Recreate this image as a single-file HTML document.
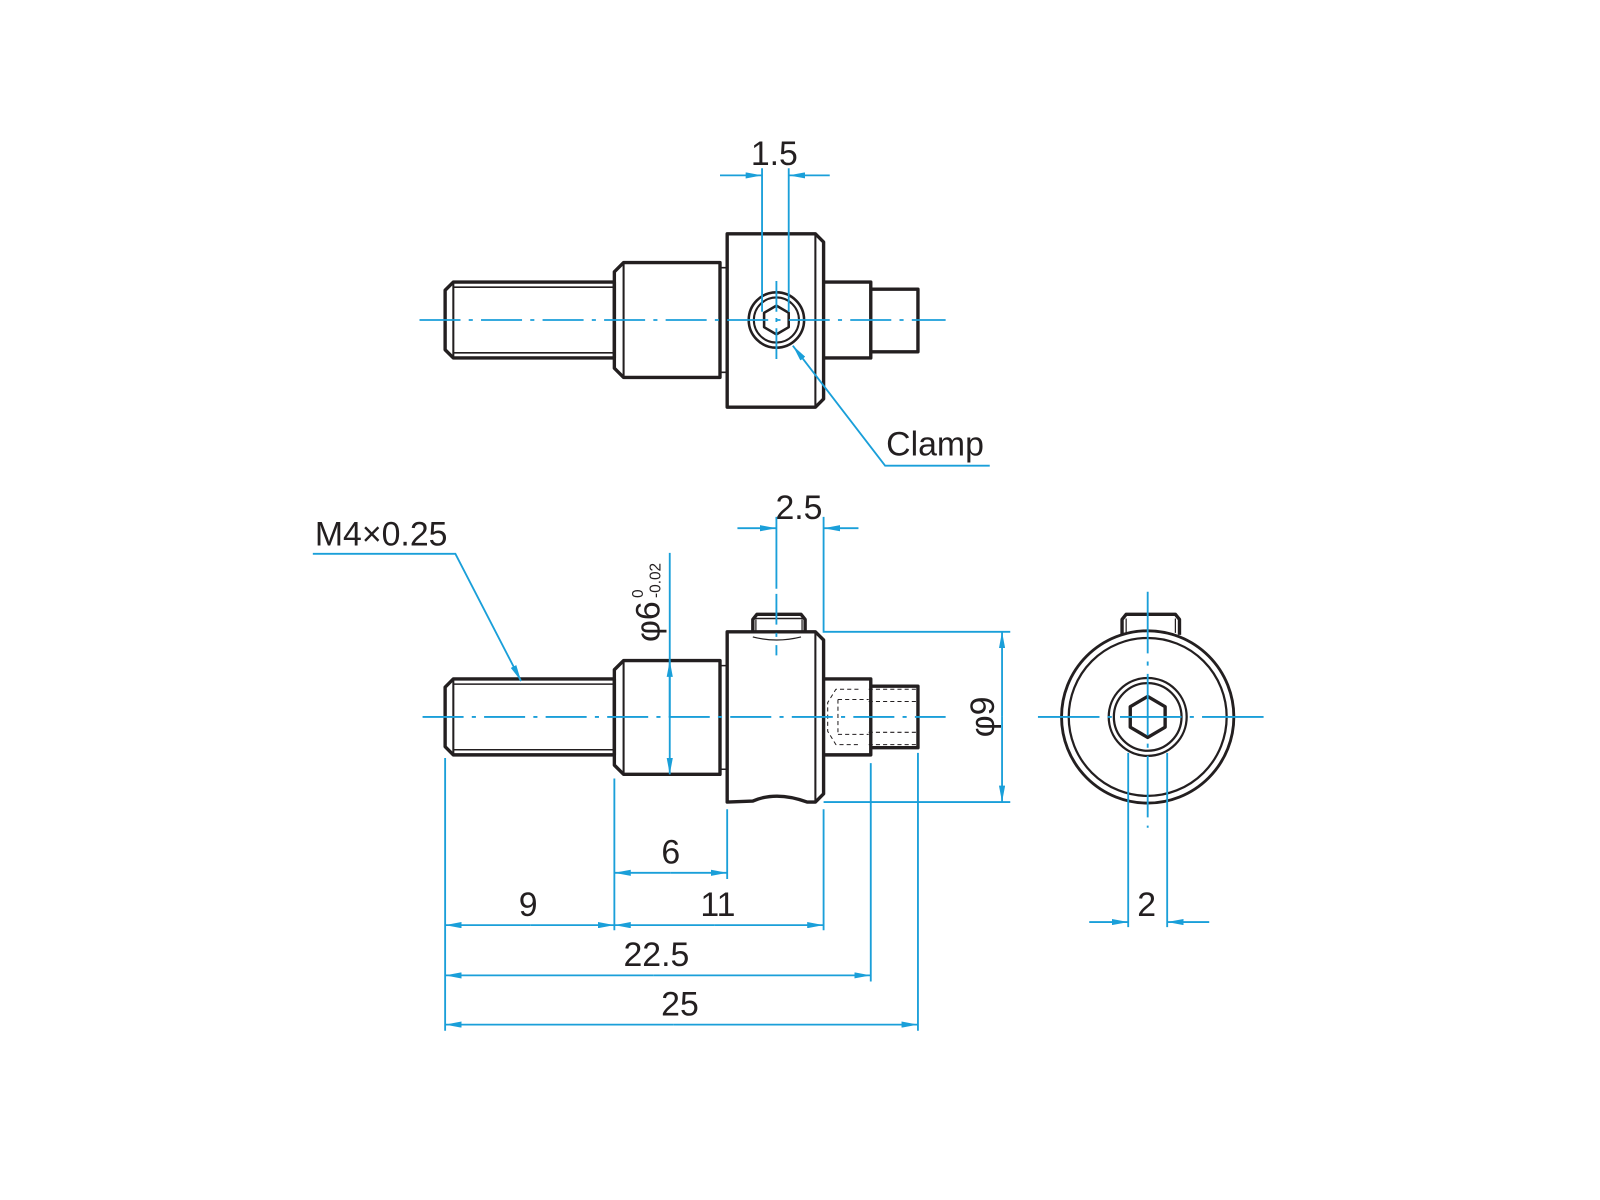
<!DOCTYPE html>
<html><head><meta charset="utf-8"><style>
html,body{margin:0;padding:0;background:#fff}
svg{display:block}
text{font-family:"Liberation Sans",sans-serif;fill:#231f20}
</style></head><body>
<svg width="1600" height="1200" viewBox="0 0 1560 1170" xmlns="http://www.w3.org/2000/svg">
<defs>
<marker id="a" viewBox="0 0 16 6" refX="16" refY="3" markerWidth="16" markerHeight="6" markerUnits="userSpaceOnUse" orient="auto"><path d="M0,0 L16,3 L0,6 z" fill="#1a9fd9"/></marker>
</defs>
<g transform="translate(-3,-1)">
<g fill="none" stroke="#231f20" stroke-width="3.3" stroke-linejoin="round">
<path d="M445,276 L602,276 L602,350 L445,350 L437,342 L437,284 Z"/>
<path d="M445,276 V350" stroke-width="2"/>
<path d="M445,281 H602 M445,345 H602" stroke-width="1.5"/>
<path d="M611,257 L705,257 L705,369 L611,369 L602,360 L602,266 Z"/>
<path d="M611,257 V369" stroke-width="2"/>
<path d="M705,262 H712 M705,364 H712 M712,262 V364" stroke-width="1.5"/>
<path d="M712,229 L798,229 L806,237 L806,390 L798,398 L712,398 Z"/>
<path d="M798,229 V398" stroke-width="2"/>
<path d="M806,276 H852 V350 H806"/>
<path d="M852,283 H898 V344 H852"/>
<circle cx="760" cy="313" r="27" stroke-width="2.5"/>
<circle cx="760" cy="313" r="22" stroke-width="2"/>
<path d="M760,299 L772,306 L772,320 L760,327 L748,320 L748,306 Z" stroke-width="2.5"/>
<path d="M445,663 L602,663 L602,737 L445,737 L437,729 L437,671 Z"/>
<path d="M445,663 V737" stroke-width="2"/>
<path d="M445,668 H602 M445,732 H602" stroke-width="1.5"/>
<path d="M611,645 L705,645 L705,756 L611,756 L602,747 L602,654 Z"/>
<path d="M611,645 V756" stroke-width="2"/>
<path d="M705,650 H712 M705,751 H712" stroke-width="1.5"/>
<path d="M712,617 L798,617 L806,625 L806,775 L798,783 L790,783 Q760,772 737,782 L712,783 Z"/>
<path d="M798,617 V783" stroke-width="2"/>
<path d="M737,617 L737,605 L741,600 L784,600 L788,605 L788,617"/>
<path d="M737,604 H788" stroke-width="1.5"/>
<path d="M740,605 V617 M785,605 V617" stroke-width="1.2"/>
<path d="M737,622 Q760,628 784,622" stroke-width="1.2"/>
<path d="M806,663 H852 V737 H806"/>
<path d="M852,670 H898 V730 H852"/>
<g stroke-width="1" stroke-dasharray="4,3">
<path d="M850,673 H896 M850,685 H896 M850,715 H896 M850,727 H896"/>
<path d="M840,673 H818 L810,686 V714 L818,727 H840"/>
<path d="M820,683 H850 M820,717 H850 M820,683 V717"/>
</g>
<circle cx="1122" cy="700" r="84" stroke-width="2.8"/>
<circle cx="1122" cy="700" r="77" stroke-width="2.2"/>
<circle cx="1122" cy="700" r="38" stroke-width="2.2"/>
<circle cx="1122" cy="700" r="33" stroke-width="2.2"/>
<path d="M1122,680 L1139,690 L1139,710 L1122,720 L1105,710 L1105,690 Z" stroke-width="3.3"/>
<path d="M1097,620 V605 L1101,600 L1149,600 L1153,605 V620"/>
<path d="M1101,604 V618 M1149,604 V618" stroke-width="1.2"/>
</g>
<g fill="none" stroke="#1a9fd9" stroke-width="1.8">
<path d="M412,313 H925" stroke-dasharray="40,8,4,8"/>
<path d="M760,275 V352" stroke-dasharray="30,6,4,6"/>
<path d="M415,700 H925" stroke-dasharray="40,8,4,8"/>
<path d="M760,580 V640" stroke-dasharray="30,8,4,8"/>
<path d="M1015,700 H1238" stroke-dasharray="60,8,4,8"/>
<path d="M1122,578 V808" stroke-dasharray="60,8,4,8"/>
<path d="M746,165 V305 M772,165 V305"/>
<path d="M705,172 H746" marker-end="url(#a)"/>
<path d="M812,172 H772" marker-end="url(#a)"/>
<path d="M968,455 H866 L776,338" marker-end="url(#a)"/>
<path d="M760,505 V575"/>
<path d="M806,505 V617 H988 M806,783 H988"/>
<path d="M722,516 H760" marker-end="url(#a)"/>
<path d="M840,516 H806" marker-end="url(#a)"/>
<path d="M656,540 V700"/>
<path d="M656,700 V645" marker-end="url(#a)"/>
<path d="M656,700 V756" marker-end="url(#a)"/>
<path d="M980,700 V617" marker-end="url(#a)"/>
<path d="M980,700 V783" marker-end="url(#a)"/>
<path d="M308,541 H447 L511,665" marker-end="url(#a)"/>
<path d="M437,740 V1006 M602,760 V908 M712,790 V858 M806,790 V908 M852,745 V958 M898,735 V1006"/>
<path d="M657,852 H602" marker-end="url(#a)"/>
<path d="M657,852 H712" marker-end="url(#a)"/>
<path d="M520,903 H437" marker-end="url(#a)"/>
<path d="M520,903 H602" marker-end="url(#a)"/>
<path d="M700,903 H602" marker-end="url(#a)"/>
<path d="M700,903 H806" marker-end="url(#a)"/>
<path d="M640,952 H437" marker-end="url(#a)"/>
<path d="M640,952 H852" marker-end="url(#a)"/>
<path d="M660,1000 H437" marker-end="url(#a)"/>
<path d="M660,1000 H898" marker-end="url(#a)"/>
<path d="M1103,735 V905 M1141,735 V905"/>
<path d="M1065,900 H1103" marker-end="url(#a)"/>
<path d="M1182,900 H1141" marker-end="url(#a)"/>
</g>
<g font-size="33">
<text x="758" y="162" text-anchor="middle">1.5</text>
<text x="867" y="445">Clamp</text>
<text x="782" y="507" text-anchor="middle">2.5</text>
<text x="310" y="533">M4×0.25</text>
<text x="657" y="843" text-anchor="middle">6</text>
<text x="518" y="894" text-anchor="middle">9</text>
<text x="703" y="894" text-anchor="middle">11</text>
<text x="643" y="943" text-anchor="middle">22.5</text>
<text x="666" y="991" text-anchor="middle">25</text>
<text x="1121" y="894" text-anchor="middle">2</text>
<text transform="translate(972,700) rotate(-90)" text-anchor="middle">φ9</text>
<text transform="translate(646,627) rotate(-90)">φ6</text>
<text transform="translate(630,584) rotate(-90)" font-size="15">0</text>
<text transform="translate(647,584) rotate(-90)" font-size="15">-0.02</text>
</g>
</g>
</svg>
</body></html>
